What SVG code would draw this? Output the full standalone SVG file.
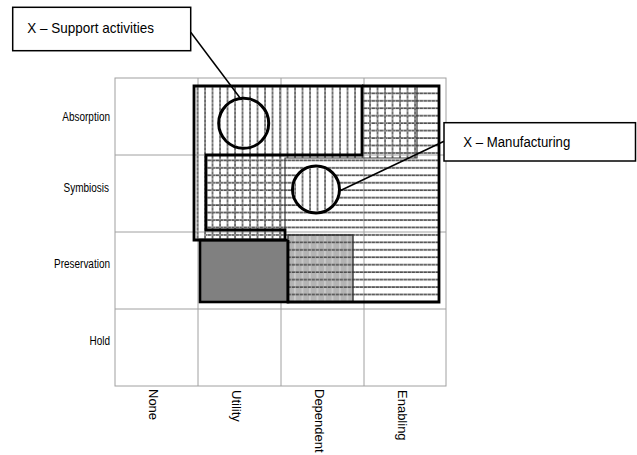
<svg xmlns="http://www.w3.org/2000/svg" width="637" height="455" viewBox="0 0 637 455">
  <defs>
    <style>
      .txt { font-family: "Liberation Sans", Arial, sans-serif; fill: #000; }
      .gridline { stroke: #a0a0a0; stroke-width: 1; fill: none; }
      .thick { fill: none; stroke: #000; stroke-width: 2.8; stroke-linejoin: miter; }
      .thin { fill: none; stroke: #3a3a3a; stroke-width: 1.2; }
      .box { fill: #fff; stroke: #000; stroke-width: 1.5; }
      .leader { stroke: #000; stroke-width: 1.5; fill: none; }
      .ring { stroke: #000; stroke-width: 3; }
    </style>
    <!-- vertical hatching: grey bar with a dotted dark core -->
    <pattern id="vlines" patternUnits="userSpaceOnUse" x="201.25" y="0" width="7.5" height="4">
      <rect x="2.9" y="0" width="1.8" height="4" fill="#8e8e8e"/>
      <rect x="3.4" y="0" width="0.8" height="2" fill="#3c3c3c"/>
    </pattern>
    <!-- horizontal hatching: grey bar with a dashed dark core -->
    <pattern id="hlines" patternUnits="userSpaceOnUse" x="0" y="201.3" width="4" height="7.45">
      <rect x="0" y="2.9" width="4" height="1.8" fill="#949494"/>
      <rect x="0" y="3.4" width="2.8" height="0.9" fill="#222"/>
    </pattern>
    <!-- grey tint with faint light verticals -->
    <pattern id="greytint" patternUnits="userSpaceOnUse" x="201.25" y="0" width="7.5" height="4">
      <rect x="0" y="0" width="7.5" height="4" fill="#b4b4b4"/>
      <rect x="3.2" y="0" width="1" height="4" fill="#dcdcdc"/>
    </pattern>
  </defs>

  <!-- background -->
  <rect x="0" y="0" width="637" height="455" fill="#fff"/>

  <!-- 4x4 matrix -->
  <g id="grid">
    <rect class="gridline" x="115" y="78" width="331" height="308"/>
    <line class="gridline" x1="198" y1="78" x2="198" y2="386"/>
    <line class="gridline" x1="281" y1="78" x2="281" y2="386"/>
    <line class="gridline" x1="364" y1="78" x2="364" y2="386"/>
    <line class="gridline" x1="115" y1="155" x2="446" y2="155"/>
    <line class="gridline" x1="115" y1="232" x2="446" y2="232"/>
    <line class="gridline" x1="115" y1="309" x2="446" y2="309"/>
  </g>

  <!-- row labels -->
  <g id="row-labels" class="txt" font-size="13.5" text-anchor="end">
    <text transform="translate(110,120.5) scale(0.74,1)">Absorption</text>
    <text transform="translate(109,191.5) scale(0.74,1)">Symbiosis</text>
    <text transform="translate(110,267.5) scale(0.74,1)">Preservation</text>
    <text transform="translate(110,344.5) scale(0.74,1)">Hold</text>
  </g>

  <!-- column labels -->
  <g id="column-labels" class="txt" font-size="13">
    <text transform="translate(149,389) rotate(90)">None</text>
    <text transform="translate(232,390) rotate(90)">Utility</text>
    <text transform="translate(315,389) rotate(90)">Dependent</text>
    <text transform="translate(398,390) rotate(90)">Enabling</text>
  </g>

  <!-- manufacturing area: horizontal hatching -->
  <g id="manufacturing-area">
    <polygon points="206,155 362,155 362,86 439,86 439,302 206,302 206,230" fill="url(#hlines)"/>
  </g>

  <!-- support area: vertical hatching with thin border -->
  <g id="support-area">
    <polygon points="194,86 417,86 417,158 285,158 285,240 194,240" fill="url(#vlines)"/>
    <polygon class="thin" points="194,86 417,86 417,158 285,158 285,240 194,240"/>
  </g>

  <!-- preservation cells -->
  <g id="utility-preservation">
    <rect x="200" y="240" width="88" height="62" fill="#808080" stroke="#000" stroke-width="2.6"/>
  </g>
  <g id="dependent-preservation">
    <rect x="288" y="235" width="65" height="67" fill="url(#greytint)"/>
    <rect x="288" y="235" width="65" height="67" fill="url(#hlines)" stroke="#333" stroke-width="1.4"/>
  </g>

  <!-- heavy outlines of both areas -->
  <g id="outlines">
    <polygon class="thick" points="194,86 362,86 362,155 206,155 206,230 285,230 285,240 194,240"/>
    <polyline class="thick" points="362,86 439,86 439,302 288,302 288,240"/>
  </g>

  <!-- markers -->
  <g id="support-marker">
    <circle class="ring" cx="243.7" cy="123.3" r="25" fill="#fff"/>
    <circle cx="243.7" cy="123.3" r="23.5" fill="url(#vlines)"/>
  </g>
  <g id="manufacturing-marker">
    <circle class="ring" cx="316" cy="189.5" r="23.5" fill="#fff"/>
    <circle cx="316" cy="189.5" r="22" fill="url(#vlines)"/>
  </g>

  <!-- callout leaders -->
  <g id="connectors">
    <line class="leader" x1="190.7" y1="32.3" x2="240.5" y2="98.5"/>
    <line class="leader" x1="340" y1="190.7" x2="444" y2="141.3"/>
  </g>

  <!-- callouts -->
  <g id="callout-support">
    <rect class="box" x="12.7" y="7.3" width="178" height="43.4"/>
    <text class="txt" font-size="15" transform="translate(27.3,33.3) scale(0.9,1)">X – Support activities</text>
  </g>
  <g id="callout-manufacturing">
    <rect class="box" x="444" y="122.7" width="191.5" height="38.3"/>
    <text class="txt" font-size="15" transform="translate(463.3,147) scale(0.88,1)">X – Manufacturing</text>
  </g>
</svg>
